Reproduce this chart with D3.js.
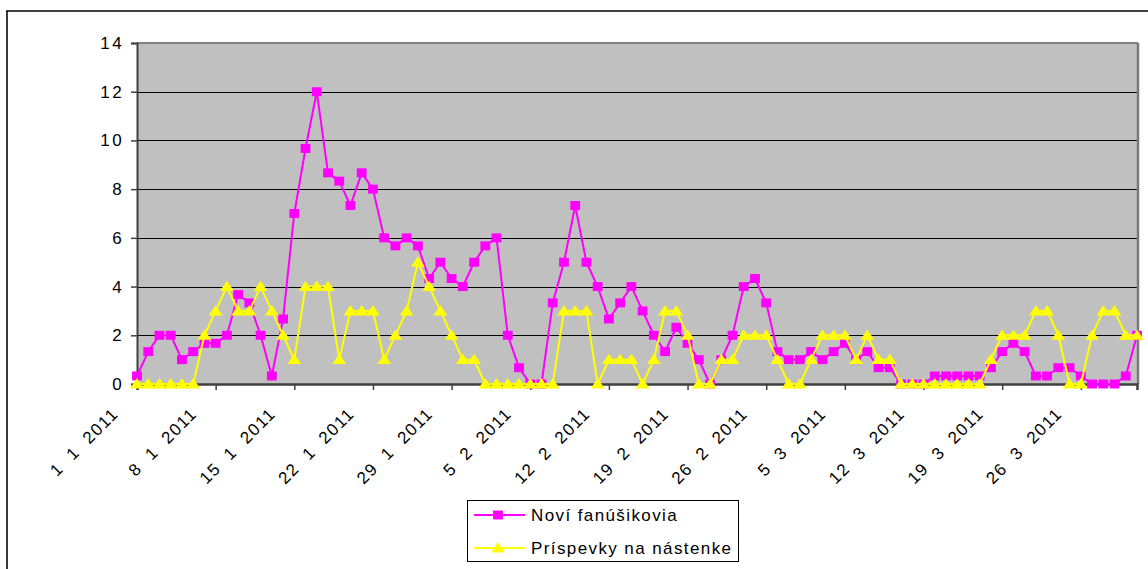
<!DOCTYPE html>
<html>
<head>
<meta charset="utf-8">
<script src="https://cdn.jsdelivr.net/npm/d3@7"></script>
<style>
  html, body { margin: 0; padding: 0; background: #fff; }
  svg { display: block; font-family: "Liberation Sans", Arial, sans-serif; }
  .xlabel { white-space: pre; }
</style>
</head>
<body>
<svg id="chart" width="1148" height="569"></svg>
<script>
// Daily values, 1 January – 31 March 2011
const startDate = new Date(2011, 0, 1);
const dayCount = 90;

const seriesNames = ["Noví fanúšikovia", "Príspevky na nástenke"];

const noviFanusikovia = [
  0.33, 1.33, 2, 2, 1, 1.33, 1.67, 1.67, 2, 3.67,
  3.33, 2, 0.33, 2.67, 7, 9.67, 12, 8.67, 8.33, 7.33,
  8.67, 8, 6, 5.67, 6, 5.67, 4.33, 5, 4.33, 4,
  5, 5.67, 6, 2, 0.67, 0, 0, 3.33, 5, 7.33,
  5, 4, 2.67, 3.33, 4, 3, 2, 1.33, 2.33, 1.67,
  1, 0, 1, 2, 4, 4.33, 3.33, 1.33, 1, 1,
  1.33, 1, 1.33, 1.67, 1, 1.33, 0.67, 0.67, 0, 0,
  0, 0.33, 0.33, 0.33, 0.33, 0.33, 0.67, 1.33, 1.67, 1.33,
  0.33, 0.33, 0.67, 0.67, 0.33, 0, 0, 0, 0.33, 2
];

const prispevkyNaNastenke = [
  0, 0, 0, 0, 0, 0, 2, 3, 4, 3,
  3, 4, 3, 2, 1, 4, 4, 4, 1, 3,
  3, 3, 1, 2, 3, 5, 4, 3, 2, 1,
  1, 0, 0, 0, 0, 0, 0, 0, 3, 3,
  3, 0, 1, 1, 1, 0, 1, 3, 3, 2,
  0, 0, 1, 1, 2, 2, 2, 1, 0, 0,
  1, 2, 2, 2, 1, 2, 1, 1, 0, 0,
  0, 0, 0, 0, 0, 0, 1, 2, 2, 2,
  3, 3, 2, 0, 0, 2, 3, 3, 2, 2
];

const yTicks = [0, 2, 4, 6, 8, 10, 12, 14];
const xTickLabels = [
  "1  1  2011", "8  1  2011", "15  1  2011", "22  1  2011", "29  1  2011",
  "5  2  2011", "12  2  2011", "19  2  2011", "26  2  2011", "5  3  2011",
  "12  3  2011", "19  3  2011", "26  3  2011"
];

const dates = d3.range(dayCount).map(i => d3.timeDay.offset(startDate, i));
const tickDates = d3.range(0, dayCount, 7).map(i => dates[i]);

// Layout
const plot = { left: 137, right: 1137, top: 43, bottom: 384 };
const fontSize = 17;
const tracking = 1.4;

const svg = d3.select("#chart");

const x = d3.scaleTime()
  .domain([dates[0], dates[dates.length - 1]])
  .range([plot.left, plot.right]);

const y = d3.scaleLinear()
  .domain([0, 14])
  .range([plot.bottom, plot.top]);

// Outer chart frame (left and top edges)
svg.append("line").attr("x1", 7).attr("x2", 7).attr("y1", 11).attr("y2", 569)
  .attr("stroke", "#3a3a3a").attr("stroke-width", 2);
svg.append("line").attr("x1", 6).attr("x2", 1148).attr("y1", 11).attr("y2", 11)
  .attr("stroke", "#000").attr("stroke-width", 1.5);

// Plot background
svg.append("rect")
  .attr("x", plot.left).attr("y", plot.top)
  .attr("width", plot.right - plot.left).attr("height", plot.bottom - plot.top)
  .attr("fill", "#c0c0c0");

// Horizontal gridlines
svg.append("g")
  .selectAll("line")
  .data(yTicks.filter(d => d > 0 && d < 14))
  .join("line")
  .attr("x1", plot.left).attr("x2", plot.right)
  .attr("y1", d => Math.round(y(d)) + 0.5).attr("y2", d => Math.round(y(d)) + 0.5)
  .attr("stroke", "#000").attr("stroke-width", 1.2);

// Plot border: top and right
svg.append("line").attr("x1", plot.left).attr("x2", plot.right + 1)
  .attr("y1", plot.top).attr("y2", plot.top)
  .attr("stroke", "#808080").attr("stroke-width", 2);
svg.append("line").attr("x1", plot.right + 1).attr("x2", plot.right + 1)
  .attr("y1", plot.top).attr("y2", plot.bottom)
  .attr("stroke", "#7a7a7a").attr("stroke-width", 2.5);

// Y axis
const yAxis = d3.axisLeft(y).tickValues(yTicks).tickSize(6).tickPadding(12).tickFormat(d3.format("d"));
const gy = svg.append("g").attr("transform", `translate(${plot.left},0)`).call(yAxis);
gy.select(".domain").attr("stroke", "#404040").attr("stroke-width", 2);
gy.selectAll(".tick line").attr("stroke", "#404040").attr("stroke-width", 1.5);
gy.selectAll(".tick text")
  .attr("font-size", fontSize)
  .attr("font-family", "Liberation Sans, Arial, sans-serif")
  .attr("letter-spacing", 2.4)
  .attr("fill", "#000")
  .attr("x", -13).attr("dy", null)
  .attr("dominant-baseline", "central");

// X axis
const xAxis = d3.axisBottom(x).tickValues(tickDates).tickSize(6)
  .tickFormat((d, i) => xTickLabels[i]);
const gx = svg.append("g").attr("transform", `translate(0,${plot.bottom})`).call(xAxis);
gx.select(".domain").attr("stroke", "#404040").attr("stroke-width", 2.5);
gx.selectAll(".tick line").attr("stroke", "#404040").attr("stroke-width", 1.5);
gx.selectAll(".tick text")
  .attr("class", "xlabel")
  .attr("font-size", fontSize)
  .attr("font-family", "Liberation Sans, Arial, sans-serif")
  .attr("letter-spacing", tracking)
  .attr("fill", "#000")
  .attr("y", null).attr("dy", null)
  .attr("text-anchor", "end")
  .attr("dominant-baseline", "central")
  .attr("transform", "translate(-22,27) rotate(-45)");

// Series
const colors = ["#ff00ff", "#ffff00"];
const seriesData = [noviFanusikovia, prispevkyNaNastenke];

const line = d3.line()
  .x((d, i) => x(dates[i]))
  .y(d => y(d));

const squareSym = d3.symbol().type(d3.symbolSquare).size(80);
const triangleSym = d3.symbol().type(d3.symbolTriangle).size(62);

seriesData.forEach((values, s) => {
  const g = svg.append("g");
  g.append("path")
    .datum(values)
    .attr("d", line)
    .attr("fill", "none")
    .attr("stroke", colors[s])
    .attr("stroke-width", 2)
    .attr("stroke-linejoin", "round");
  g.selectAll("path.mark")
    .data(values)
    .join("path")
    .attr("class", "mark")
    .attr("d", s === 0 ? squareSym : triangleSym)
    .attr("transform", (d, i) => s === 0
      ? `translate(${x(dates[i])},${y(d)}) scale(1.1,1)`
      : `translate(${x(dates[i])},${y(d) + 1}) scale(1.15,1)`)
    .attr("fill", colors[s]);
});

// Legend
const legend = svg.append("g");
legend.append("rect")
  .attr("x", 467.5).attr("y", 500.5).attr("width", 271).attr("height", 61)
  .attr("fill", "#fff").attr("stroke", "#000").attr("stroke-width", 1);

const legendRows = [515, 548];
seriesNames.forEach((name, s) => {
  const ly = legendRows[s];
  legend.append("line").attr("x1", 474).attr("x2", 525).attr("y1", ly).attr("y2", ly)
    .attr("stroke", colors[s]).attr("stroke-width", 2);
  legend.append("path")
    .attr("d", s === 0 ? squareSym : triangleSym)
    .attr("transform", s === 0 ? `translate(498,${ly}) scale(1.1,1)` : `translate(498,${ly + 1}) scale(1.15,1)`)
    .attr("fill", colors[s]);
  legend.append("text")
    .attr("x", 531).attr("y", ly)
    .attr("dominant-baseline", "central")
    .attr("font-size", fontSize)
    .attr("letter-spacing", tracking)
    .attr("fill", "#000")
    .text(name);
});
</script>
</body>
</html>
